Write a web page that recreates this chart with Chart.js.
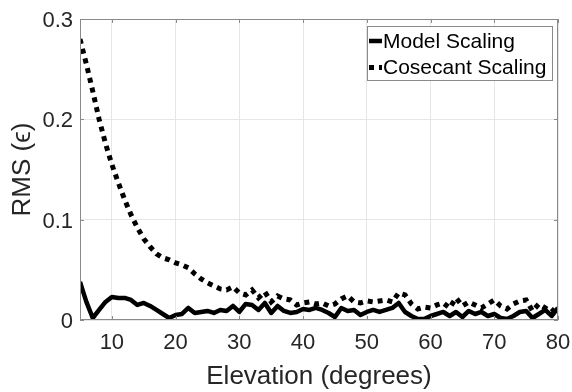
<!DOCTYPE html>
<html>
<head>
<meta charset="utf-8">
<script src="https://cdn.jsdelivr.net/npm/chart.js@4/dist/chart.umd.min.js"></script>
<style>
  html, body { margin: 0; padding: 0; background: #fff; overflow: hidden; }
  #wrap { width: 572px; height: 392px; }
</style>
</head>
<body>
<div id="wrap"><canvas id="rms"></canvas></div>
<script>
// elevation angles in degrees
const elevation = [
  5, 6, 7, 8, 9, 10, 11, 12, 13, 14, 15, 16, 17, 18, 19, 20, 21, 22, 23, 24,
  25, 26, 27, 28, 29, 30, 31, 32, 33, 34, 35, 36, 37, 38, 39, 40, 41, 42, 43, 44,
  45, 46, 47, 48, 49, 50, 51, 52, 53, 54, 55, 56, 57, 58, 59, 60, 61, 62, 63, 64,
  65, 66, 67, 68, 69, 70, 71, 72, 73, 74, 75, 76, 77, 78, 79, 80
];

const modelScaling = [
  0.038, 0.018, 0.002, 0.010, 0.018, 0.023, 0.022, 0.022, 0.020, 0.015,
  0.017, 0.014, 0.010, 0.006, 0.002, 0.005, 0.006, 0.012, 0.007, 0.008,
  0.009, 0.007, 0.010, 0.009, 0.014, 0.008, 0.016, 0.015, 0.010, 0.017,
  0.007, 0.014, 0.009, 0.007, 0.008, 0.011, 0.010, 0.012, 0.010, 0.007,
  0.003, 0.012, 0.009, 0.010, 0.005, 0.008, 0.010, 0.008, 0.010, 0.012,
  0.017, 0.008, 0.004, 0.001, 0.001, 0.004, 0.006, 0.008, 0.004, 0.008,
  0.003, 0.009, 0.006, 0.008, 0.004, 0.006, 0.002, 0.001, 0.004, 0.008,
  0.009, 0.002, 0.006, 0.010, 0.004, 0.012
];

const cosecantScaling = [
  0.280, 0.255, 0.228, 0.200, 0.176, 0.155, 0.137, 0.120, 0.105, 0.092,
  0.081, 0.073, 0.066, 0.062, 0.060, 0.057, 0.055, 0.052, 0.046, 0.041,
  0.037, 0.034, 0.031, 0.030, 0.033, 0.027, 0.025, 0.030, 0.022, 0.028,
  0.018, 0.024, 0.021, 0.020, 0.015, 0.017, 0.018, 0.016, 0.017, 0.014,
  0.016, 0.021, 0.024, 0.018, 0.017, 0.019, 0.018, 0.019, 0.020, 0.018,
  0.027, 0.025, 0.016, 0.011, 0.013, 0.012, 0.015, 0.017, 0.012, 0.022,
  0.014, 0.018, 0.015, 0.012, 0.016, 0.020, 0.014, 0.011, 0.016, 0.019,
  0.020, 0.009, 0.016, 0.012, 0.008, 0.015
];

const xTicks = [10, 20, 30, 40, 50, 60, 70, 80];
const yTicks = [0, 0.1, 0.2, 0.3];

const FONT = '"Liberation Sans", Arial, Helvetica, sans-serif';
const TEXT = '#262626';
const AXIS = '#8a8a8a';

// box around the axes with small inward ticks, like a matlab plot
const boxPlugin = {
  id: 'boxAxes',
  afterDatasetsDraw(chart) {
    const { ctx, chartArea: a, scales } = chart;
    ctx.save();
    ctx.strokeStyle = AXIS;
    ctx.lineWidth = 1;
    ctx.strokeRect(a.left + 0.5, a.top + 0.5, a.right - a.left - 1, a.bottom - a.top - 1);
    const len = 4;
    ctx.beginPath();
    xTicks.forEach(v => {
      const x = Math.round(scales.x.getPixelForValue(v)) + 0.5;
      ctx.moveTo(x, a.bottom); ctx.lineTo(x, a.bottom - len);
      ctx.moveTo(x, a.top); ctx.lineTo(x, a.top + len);
    });
    yTicks.forEach(v => {
      const y = Math.round(scales.y.getPixelForValue(v)) + 0.5;
      ctx.moveTo(a.left, y); ctx.lineTo(a.left + len, y);
      ctx.moveTo(a.right, y); ctx.lineTo(a.right - len, y);
    });
    ctx.stroke();
    ctx.restore();
  }
};

// legend box drawn inside the plot, top right corner
const insideLegend = {
  id: 'insideLegend',
  afterDraw(chart) {
    const { ctx, chartArea: a } = chart;
    const w = 185, h = 54;
    const x0 = a.right - 6 - w, y0 = a.top + 7;
    ctx.save();
    ctx.fillStyle = '#fff';
    ctx.fillRect(x0, y0, w, h);
    ctx.strokeStyle = AXIS;
    ctx.lineWidth = 1;
    ctx.strokeRect(x0 + 0.5, y0 + 0.5, w, h);
    ctx.font = '21px ' + FONT;
    ctx.textBaseline = 'middle';
    ctx.fillStyle = '#000';
    chart.data.datasets.forEach((ds, i) => {
      const y = y0 + 15 + i * 26.5;
      ctx.beginPath();
      ctx.setLineDash(ds.borderDash || []);
      ctx.lineDashOffset = 0;
      ctx.lineWidth = ds.borderWidth;
      ctx.lineCap = 'butt';
      ctx.strokeStyle = ds.borderColor;
      ctx.moveTo(x0 + 2, y);
      ctx.lineTo(x0 + 15, y);
      ctx.stroke();
      ctx.setLineDash([]);
      ctx.fillText(ds.label, x0 + 16, y + 1);
    });
    ctx.restore();
  }
};

new Chart(document.getElementById('rms'), {
  type: 'line',
  data: {
    datasets: [
      {
        label: 'Model Scaling',
        data: elevation.map((e, i) => ({ x: e, y: modelScaling[i] })),
        borderColor: '#000',
        borderWidth: 4.5,
        pointRadius: 0,
        tension: 0,
        borderJoinStyle: 'round'
      },
      {
        label: 'Cosecant Scaling',
        data: elevation.map((e, i) => ({ x: e, y: cosecantScaling[i] })),
        borderColor: '#000',
        borderWidth: 5,
        borderDash: [5, 5],
        borderCapStyle: 'butt',
        pointRadius: 0,
        tension: 0
      }
    ]
  },
  options: {
    responsive: true,
    maintainAspectRatio: false,
    animation: false,
    layout: { padding: { top: 19, right: 14, left: 0, bottom: 0 } },
    plugins: {
      legend: { display: false },
      tooltip: { enabled: false }
    },
    scales: {
      x: {
        type: 'linear',
        min: 5,
        max: 80,
        afterBuildTicks: s => { s.ticks = xTicks.map(v => ({ value: v })); },
        afterFit: s => { s.height = 72; s.paddingLeft = 0; s.paddingRight = 0; },
        grid: { color: '#e6e6e6', drawTicks: false },
        border: { display: false },
        ticks: {
          padding: 10,
          color: TEXT,
          font: { family: FONT, size: 22 },
          maxRotation: 0
        },
        title: {
          display: true,
          text: 'Elevation (degrees)',
          color: TEXT,
          font: { family: FONT, size: 26 },
          padding: { top: 0, bottom: 0 }
        }
      },
      y: {
        min: 0,
        max: 0.3,
        afterBuildTicks: s => { s.ticks = yTicks.map(v => ({ value: v })); },
        afterFit: s => { s.width = 80; s.paddingTop = 0; s.paddingBottom = 0; },
        grid: { color: '#e6e6e6', drawTicks: false },
        border: { display: false },
        ticks: {
          padding: 7,
          labelOffset: 2,
          color: TEXT,
          font: { family: FONT, size: 22 },
          callback: v => String(+v.toFixed(1))
        },
        title: {
          display: true,
          text: 'RMS (ϵ)',
          color: TEXT,
          font: { family: FONT, size: 26 },
          padding: { top: 7, bottom: 0 }
        }
      }
    }
  },
  plugins: [boxPlugin, insideLegend]
});
</script>
</body>
</html>
